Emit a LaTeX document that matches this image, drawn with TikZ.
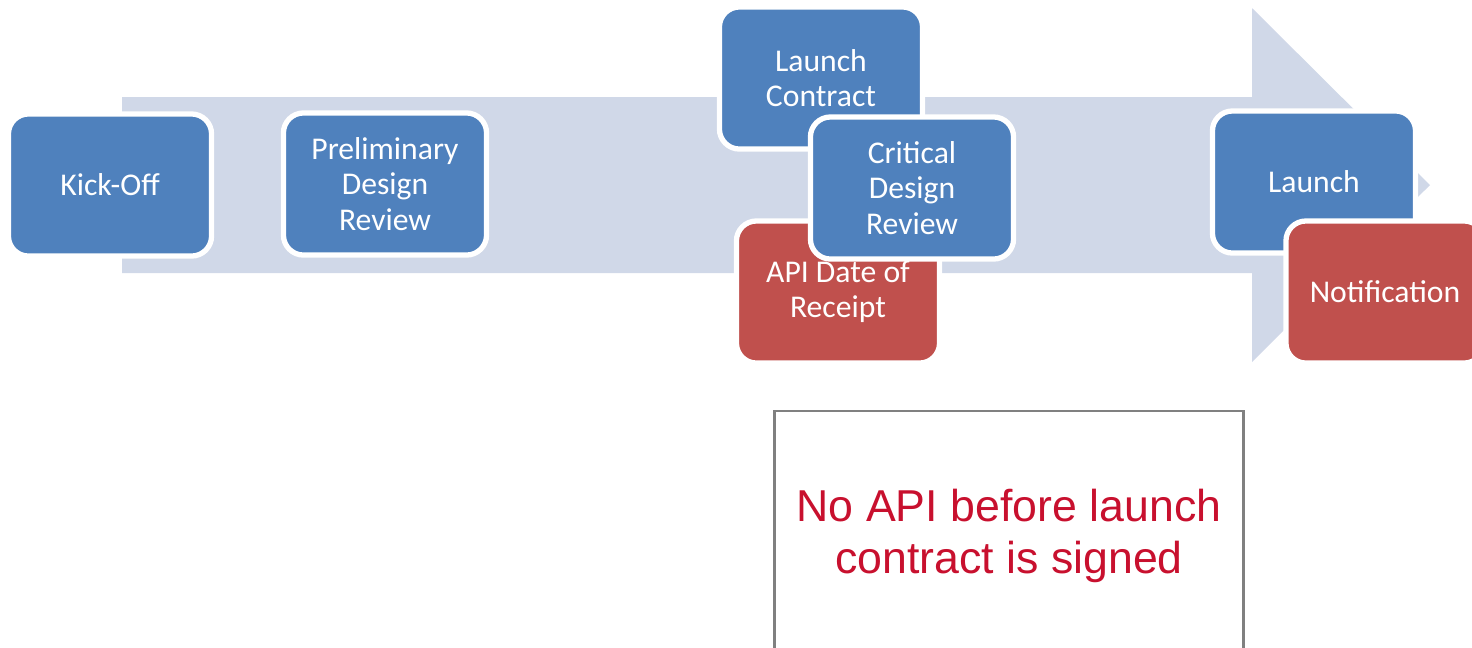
\documentclass[tikz,border=0pt]{standalone}
\usepackage{fontspec}
\setmainfont{Carlito}
\newfontfamily\notefont{Liberation Sans}
\definecolor{stepblue}{RGB}{79,129,189}
\definecolor{stepred}{RGB}{192,80,77}
\definecolor{trackgray}{RGB}{208,216,232}
\definecolor{notered}{RGB}{200,16,46}

\begin{document}
\begin{tikzpicture}[x=0.01cm, y=-0.01cm]
    \tikzstyle{milestone}=[draw=white,line width=1.5pt,rounded corners=0.2cm,fill=stepblue,
        text=white,align=center,minimum width=2.03cm,minimum height=1.42cm,
        font=\fontsize{9}{10}\selectfont]
    \tikzstyle{deadline}=[milestone,fill=stepred]
    \clip (0,0) rectangle (1472,647);
    % timeline arrow in the back
    \fill[trackgray] (122,97) -- (1252,97) -- (1252,8) -- (1430,185)
        -- (1252,362) -- (1252,273) -- (122,273) -- cycle;
    % milestones along the track
    \node[milestone] (kick) at (110,185) {Kick-Off};
    \node[milestone] (pdr) at (385,184) {Preliminary\\Design\\Review};
    \node[milestone] (lc) at (821,78) {Launch\\Contract};
    \node[deadline] (api) at (838,292) {API Date of\\Receipt};
    \node[milestone] (cdr) at (912,188) {Critical\\Design\\Review};
    \node[milestone] (launch) at (1314,182) {Launch};
    \node[deadline,minimum width=1.98cm] (notif) at (1385,292) {Notification};
    % remark below
    \node[draw=gray,line width=0.8pt,minimum width=4.68cm,minimum height=2.5cm,
        text=notered,align=center,font=\notefont\fontsize{12.7}{15}\selectfont]
        (remark) at (1009,536) {No API before launch\\contract is signed};
\end{tikzpicture}
\end{document}
